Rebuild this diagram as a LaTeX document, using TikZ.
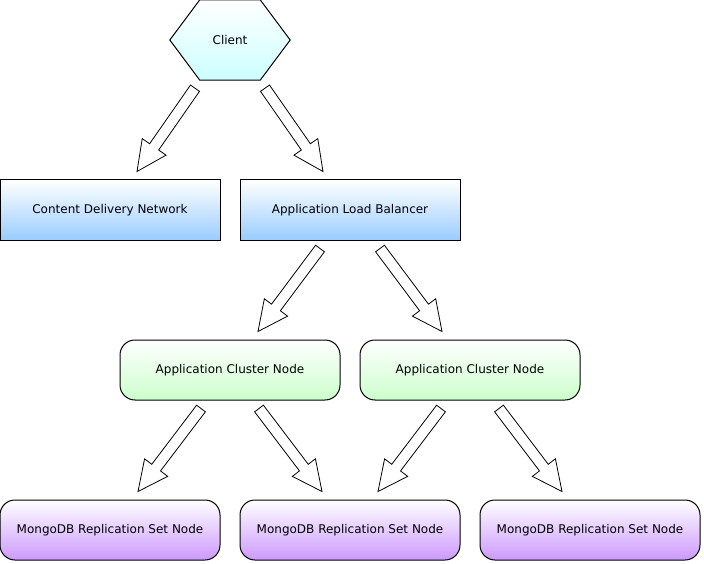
\documentclass[tikz,border=0pt]{standalone}
\usepackage{fontspec}
\setmainfont{DejaVu Sans}
\usetikzlibrary{calc,backgrounds}
\definecolor{clientcyan}{RGB}{204,255,255}
\definecolor{edgeblue}{RGB}{153,204,255}
\definecolor{clustergreen}{RGB}{204,255,204}
\definecolor{mongopurple}{RGB}{204,153,255}
\tikzset{
  box/.style={draw=black,line width=1pt,minimum width=220pt,minimum height=60pt,inner sep=0pt,
    font=\fontsize{12}{14}\selectfont,top color=white},
  edgebox/.style={box,bottom color=edgeblue},
  clusterbox/.style={box,rounded corners=15pt,bottom color=clustergreen},
  mongobox/.style={box,rounded corners=15pt,bottom color=mongopurple},
  arrowline/.style={draw=black,line width=0.8pt,fill=white,line join=miter}
}
\newcommand{\blockarrow}[2]{%
  \coordinate (h) at ($(#2)!30pt!(#1)$);
  \draw[arrowline] ($(#1)!5.5pt!90:(#2)$) -- ($(h)!5.5pt!-90:(#1)$) -- ($(h)!14.5pt!-90:(#1)$) -- (#2)
    -- ($(h)!14.5pt!90:(#1)$) -- ($(h)!5.5pt!90:(#1)$) -- ($(#1)!5.5pt!-90:(#2)$) -- cycle;
}

\begin{document}
\begin{tikzpicture}[x=1pt,y=-1pt]
                    \useasboundingbox (0,0) rectangle (704,564);
                    \node[font=\fontsize{12}{14}\selectfont,minimum width=120pt,minimum height=80pt,inner sep=0pt] (client) at (230,40) {Client};
                    \begin{scope}[on background layer]
                    \draw[line width=1pt,top color=white,bottom color=clientcyan] (client.west) -- ($(client.north west)+(30,0)$) -- ($(client.north east)+(-30,0)$)
                      -- (client.east) -- ($(client.south east)+(-30,0)$) -- ($(client.south west)+(30,0)$) -- cycle;
                    \end{scope}
                    \node[edgebox] (cdn) at (110,210) {Content Delivery Network};
                    \node[edgebox] (alb) at (350,210) {Application Load Balancer};
                    \node[clusterbox] (ac1) at (230,370) {Application Cluster Node};
                    \node[clusterbox] (ac2) at (470,370) {Application Cluster Node};
                    \node[mongobox] (m1) at (110,530) {MongoDB Replication Set Node};
                    \node[mongobox] (m2) at (350,530) {MongoDB Replication Set Node};
                    \node[mongobox] (m3) at (590,530) {MongoDB Replication Set Node};
                    \coordinate (t1) at ($(client.south)+(-35,8)$);
                    \coordinate (p1) at ($(cdn.north)+(27,-8)$);
                    \coordinate (t2) at ($(client.south)+(35,8)$);
                    \coordinate (p2) at ($(alb.north)+(-27,-8)$);
                    \coordinate (t3) at ($(alb.south)+(-30,8)$);
                    \coordinate (p3) at ($(ac1.north)+(28,-8)$);
                    \coordinate (t4) at ($(alb.south)+(30,8)$);
                    \coordinate (p4) at ($(ac2.north)+(-28,-8)$);
                    \coordinate (t5) at ($(ac1.south)+(-29,8)$);
                    \coordinate (p5) at ($(m1.north)+(28,-8)$);
                    \coordinate (t6) at ($(ac1.south)+(29,8)$);
                    \coordinate (p6) at ($(m2.north)+(-28,-8)$);
                    \coordinate (t7) at ($(ac2.south)+(-29,8)$);
                    \coordinate (p7) at ($(m2.north)+(28,-8)$);
                    \coordinate (t8) at ($(ac2.south)+(29,8)$);
                    \coordinate (p8) at ($(m3.north)+(-28,-8)$);
                    \foreach \a/\b in {t1/p1,t2/p2,t3/p3,t4/p4,t5/p5,t6/p6,t7/p7,t8/p8}{
                    \blockarrow{\a}{\b}
                    }
                    \end{tikzpicture}
\end{document}
